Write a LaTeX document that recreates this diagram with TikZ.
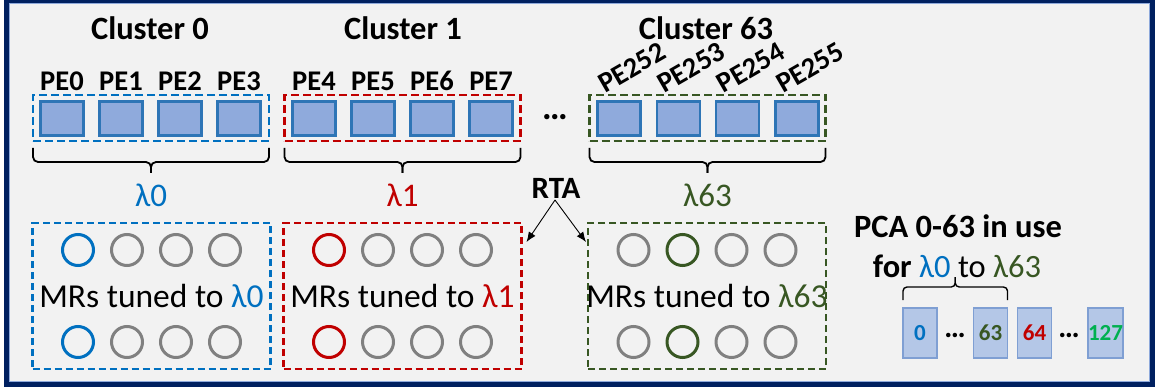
\documentclass[tikz,border=0pt]{standalone}
\usepackage{fontspec}
\setmainfont{Carlito}
\usetikzlibrary{arrows.meta,calc}

\definecolor{navy}{HTML}{002060}
\definecolor{navyedge}{HTML}{8EA9DB}
\definecolor{panel}{HTML}{F2F2F2}
\definecolor{peline}{HTML}{2E75B6}
\definecolor{pefill}{HTML}{8FAADC}
\definecolor{cblue}{HTML}{0070C0}
\definecolor{cred}{HTML}{C00000}
\definecolor{cgreen}{HTML}{385723}
\definecolor{lgreen}{HTML}{00B050}
\definecolor{ringgray}{HTML}{808080}
\definecolor{pcafill}{HTML}{B4C7E7}
\definecolor{pcaline}{HTML}{7F9FD3}

\begin{document}
\begin{tikzpicture}[x=1pt,y=-1pt,
  every node/.style={inner sep=0pt,outer sep=0pt},
  pe/.style={draw=peline,fill=pefill,line width=2.6pt,minimum width=43pt,minimum height=34pt},
  clbox/.style={draw=#1,dash pattern=on 8pt off 4pt,line width=2.4pt,minimum width=236pt,minimum height=46pt},
  mrbox/.style={draw=#1,dash pattern=on 7pt off 4pt,line width=2.1pt,minimum width=238pt,minimum height=146pt},
  ring/.style={circle,draw=#1,line width=3pt,minimum size=31pt},
  title/.style={font=\fontsize{32.5}{38}\selectfont\bfseries},
  pelab/.style={font=\fontsize{28.5}{33}\selectfont\bfseries},
  lam/.style={font=\fontsize{33}{39}\selectfont,text=#1},
  mrtext/.style={font=\fontsize{33.5}{40}\selectfont},
  brace/.style={draw=black,line width=1.8pt,rounded corners=5pt},
  pca/.style={draw=pcaline,fill=pcafill,line width=1.2pt,minimum width=34pt,minimum height=50pt,
              font=\fontsize{23}{27}\selectfont\bfseries},
  link/.style={draw=black,line width=0.9pt,-{Latex[length=10pt,width=8pt]}},
]
\useasboundingbox (0,0) rectangle (1155,387);

% panel and frame
\path[fill=panel] (6.5,0) rectangle (1152,384);
\draw[navy,line width=5.5pt] (6.5,0) rectangle (1152,384);
\draw[navyedge,line width=0.8pt] (9.6,3.1) rectangle (1148.9,380.9);

% ---------- clusters of PEs ----------
\node[clbox=cblue]  (cl0)  at (151,118) {};
\node[clbox=cred]   (cl1)  at (402.5,118) {};
\node[clbox=cgreen] (cl63) at (707.5,118) {};

\node[title] (t0)  at (150,28) {Cluster 0};
\node[title] (t1)  at (403,28) {Cluster 1};
\node[title] (t63) at (706,28) {Cluster 63};

\foreach \n [count=\i from 0] in {0,1,2,3} {
  \node[pe] (pe\n) at ({62+59*\i},118.5) {};
  \node[pelab] (lpe\n) at ($(pe\n)+(0,-37.5)$) {PE\n};
}
\foreach \n [count=\i from 0] in {4,5,6,7} {
  \node[pe] (pe\n) at ({314+59*\i},118.5) {};
  \node[pelab] (lpe\n) at ($(pe\n)+(0,-37.5)$) {PE\n};
}
\foreach \n [count=\i from 0] in {252,253,254,255} {
  \node[pe] (pe\n) at ({619+59.3*\i},118.5) {};
  \node[pelab,rotate=30] (lpe\n) at ($(pe\n)+(13,-51)$) {PE\n};
}

\node[font=\fontsize{36}{40}\selectfont\bfseries] (gap) at (555,117) {…};

% braces under the clusters
\foreach \c in {cl0,cl1,cl63} {
  \draw[brace] ([yshift=-7pt]\c.south west) |- ([yshift=-21pt]\c.south) -- ([yshift=-32pt]\c.south);
  \draw[brace] ([yshift=-7pt]\c.south east) |- ([yshift=-21pt]\c.south) -- ([yshift=-32pt]\c.south);
}

\node[lam=cblue]  (lam0)  at ($(cl0.south)+(0,54)$)  {λ0};
\node[lam=cred]   (lam1)  at ($(cl1.south)+(0,54)$)  {λ1};
\node[lam=cgreen] (lam63) at ($(cl63.south)+(0,54)$) {λ63};

% ---------- microring banks ----------
\node[mrbox=cblue]  (mr0)  at (151.5,296) {};
\node[mrbox=cred]   (mr1)  at (402.5,296) {};
\node[mrbox=cgreen] (mr63) at (707,296) {};

\foreach \b/\hot/\col in {mr0/0/cblue, mr1/0/cred, mr63/1/cgreen} {
  \foreach \k in {0,1,2,3} {
    \ifnum\k=\hot \def\rc{\col}\else\def\rc{ringgray}\fi
    \node[ring=\rc] (\b top\k) at ($(\b)+({-73.5+49*\k},-46)$) {};
    \node[ring=\rc] (\b bot\k) at ($(\b)+({-73.5+49*\k},46)$) {};
  }
}

\node[mrtext] (mrt0)  at (mr0)  {MRs tuned to \textcolor{cblue}{λ0}};
\node[mrtext] (mrt1)  at (mr1)  {MRs tuned to \textcolor{cred}{λ1}};
\node[mrtext] (mrt63) at (mr63) {MRs tuned to \textcolor{cgreen}{λ63}};

% ---------- RTA ----------
\node[font=\fontsize{31}{36}\selectfont\bfseries] (rta) at (556,188) {RTA};
\coordinate (rtafoot) at (555,200);
\coordinate (hit1)  at ([xshift=5pt,yshift=-19pt]mr1.north east);
\coordinate (hit63) at ([xshift=-2pt,yshift=-19pt]mr63.north west);
\draw[link] (rtafoot) -- (hit1);
\draw[link] (rtafoot) -- (hit63);

% ---------- PCA ----------
\node[font=\fontsize{32.5}{38}\selectfont\bfseries] (pca1) at (958,226) {PCA 0-63 in use};
\node[font=\fontsize{32.5}{38}\selectfont] (pca2) at (957,266)
  {\textbf{for} \textcolor{cblue}{λ0} to \textcolor{cgreen}{λ63}};

\node[pca,text=cblue]  (p0)   at (920,333)    {0};
\node[pca,text=cgreen] (p63)  at (990.5,333)  {63};
\node[pca,text=cred]   (p64)  at (1034.5,333) {64};
\node[pca,text=lgreen] (p127) at (1105.5,333) {127};
\node[font=\fontsize{30}{34}\selectfont\bfseries] (pd1) at (955,335)  {…};
\node[font=\fontsize{30}{34}\selectfont\bfseries] (pd2) at (1069,335) {…};

\coordinate (pm) at ($(p0.north west)!0.5!(p63.north east)$);
\draw[brace,line width=1.4pt,rounded corners=4pt] ([yshift=8pt]p0.north west) |- ([yshift=21pt]pm) -- ([yshift=31pt]pm);
\draw[brace,line width=1.4pt,rounded corners=4pt] ([yshift=8pt]p63.north east) |- ([yshift=21pt]pm) -- ([yshift=31pt]pm);
\end{tikzpicture}
\end{document}
